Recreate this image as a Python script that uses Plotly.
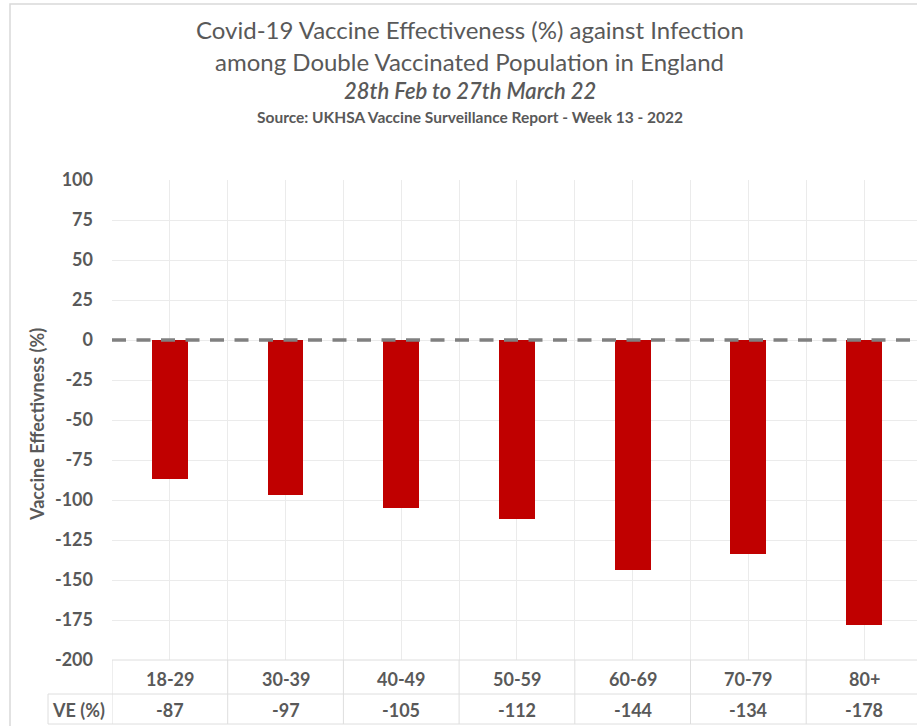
import plotly.graph_objects as go

# Age bands and vaccine effectiveness (%) against infection
age_groups = ["18-29", "30-39", "40-49", "50-59", "60-69", "70-79", "80+"]
ve_values = [-87, -97, -105, -112, -144, -134, -178]
y_ticks = [100, 75, 50, 25, 0, -25, -50, -75, -100, -125, -150, -175, -200]

W, H = 917, 726
FONT = "Lato"
TXT = "#595959"
GRID = "#ebebeb"
TABLE = "#dedede"
BAR = "#C00000"


def py(y_px):
    """Pixel row (from top) to paper fraction."""
    return 1 - y_px / H


def px(x_px):
    return x_px / W


n = len(age_groups)
xs = list(range(n))
plot_left, plot_right = 112, W
cat_w = 115.7
x_max = (plot_right - plot_left) / cat_w - 0.5

fig = go.Figure()
fig.add_trace(go.Bar(
    x=xs, y=ve_values, width=0.31,
    marker=dict(color=BAR, line=dict(width=0)),
    hoverinfo="skip", showlegend=False,
))

half_steps = [i / 2 for i in range(-1, 2 * n + 1)]

fig.update_layout(
    template="none",
    width=W, height=H,
    margin=dict(l=0, r=0, t=0, b=0, pad=0, autoexpand=False),
    paper_bgcolor="white", plot_bgcolor="white",
    font=dict(family=FONT, color=TXT),
    bargap=0,
    xaxis=dict(
        domain=[px(plot_left), 1], range=[-0.5, x_max], automargin=False,
        tickvals=half_steps, showticklabels=False,
        showgrid=True, gridcolor=GRID, gridwidth=1,
        zeroline=False, showline=False, ticks="", fixedrange=True,
    ),
    yaxis=dict(
        domain=[py(660), py(180)], range=[-200, 100], automargin=False,
        tickvals=y_ticks, ticktext=[str(t) for t in y_ticks],
        tickfont=dict(family=FONT, size=18, color=TXT, weight="bold"),
        ticklabelstandoff=18,
        showgrid=True, gridcolor=GRID, gridwidth=1,
        zeroline=False, showline=False, ticks="", fixedrange=True,
    ),
)

shapes = []
# outer chart frame
shapes.append(dict(type="rect", xref="paper", yref="paper",
                   x0=px(10), x1=px(W + 20), y0=py(H + 20), y1=py(4),
                   line=dict(color="#d9d9d9", width=1.5), fillcolor="rgba(0,0,0,0)",
                   layer="below"))
# dashed zero reference line
shapes.append(dict(type="line", xref="x", yref="y",
                   x0=-0.5, x1=x_max, y0=0, y1=0,
                   line=dict(color="#808080", width=3.5, dash="14px,10.5px"),
                   layer="above"))
# data table grid below the chart
y_tab_top, y_tab_mid, y_tab_bot = 660, 694, 724
for i in range(n + 1):
    shapes.append(dict(type="line", xref="x", yref="paper",
                       x0=i - 0.5, x1=i - 0.5, y0=py(y_tab_bot), y1=py(y_tab_top),
                       line=dict(color=TABLE, width=1)))
for yy in (y_tab_mid, y_tab_bot):
    shapes.append(dict(type="line", xref="paper", yref="paper",
                       x0=px(48), x1=1, y0=py(yy), y1=py(yy),
                       line=dict(color=TABLE, width=1)))
shapes.append(dict(type="line", xref="paper", yref="paper",
                   x0=px(48), x1=px(48), y0=py(y_tab_bot), y1=py(y_tab_mid),
                   line=dict(color=TABLE, width=1)))
shapes.append(dict(type="line", xref="x", yref="paper",
                   x0=-0.5, x1=x_max, y0=py(y_tab_top), y1=py(y_tab_top),
                   line=dict(color=TABLE, width=1)))
fig.update_layout(shapes=shapes)

ann = []
# titles
ann.append(dict(text="Covid-19 Vaccine Effectiveness (%) against Infection",
                x=px(470), y=py(30), font=dict(size=24, color=TXT)))
ann.append(dict(text="among Double Vaccinated Population in England",
                x=px(470), y=py(61), font=dict(size=24, color=TXT)))
ann.append(dict(text="<i>28th Feb to 27th March 22</i>",
                x=px(470), y=py(91), font=dict(size=22, color=TXT, weight=600)))
ann.append(dict(text="<b>Source: UKHSA Vaccine Surveillance Report - Week 13 - 2022</b>",
                x=px(470), y=py(117), font=dict(size=15.5, color=TXT)))
# y-axis title
ann.append(dict(text="<b>Vaccine Effectivness (%)</b>", textangle=-90,
                x=px(37), y=py(425), font=dict(size=18, color=TXT)))
for a in ann:
    a.update(xref="paper", yref="paper", xanchor="center", yanchor="middle",
             showarrow=False)

# table rows: category labels and VE values
for i, (g, v) in enumerate(zip(age_groups, ve_values)):
    ann.append(dict(text=f"<b>{g}</b>", x=i, xref="x", y=py(679), yref="paper",
                    xanchor="center", yanchor="middle", showarrow=False,
                    font=dict(size=18, color=TXT)))
    ann.append(dict(text=f"<b>{v}</b>", x=i, xref="x", y=py(710), yref="paper",
                    xanchor="center", yanchor="middle", showarrow=False,
                    font=dict(size=18, color=TXT)))
ann.append(dict(text="<b>VE (%)</b>", x=px(50), xref="paper", y=py(710), yref="paper",
                xanchor="left", yanchor="middle", showarrow=False,
                font=dict(size=18, color=TXT)))
fig.update_layout(annotations=ann)

fig.write_html("out.html", config={"displayModeBar": False})
